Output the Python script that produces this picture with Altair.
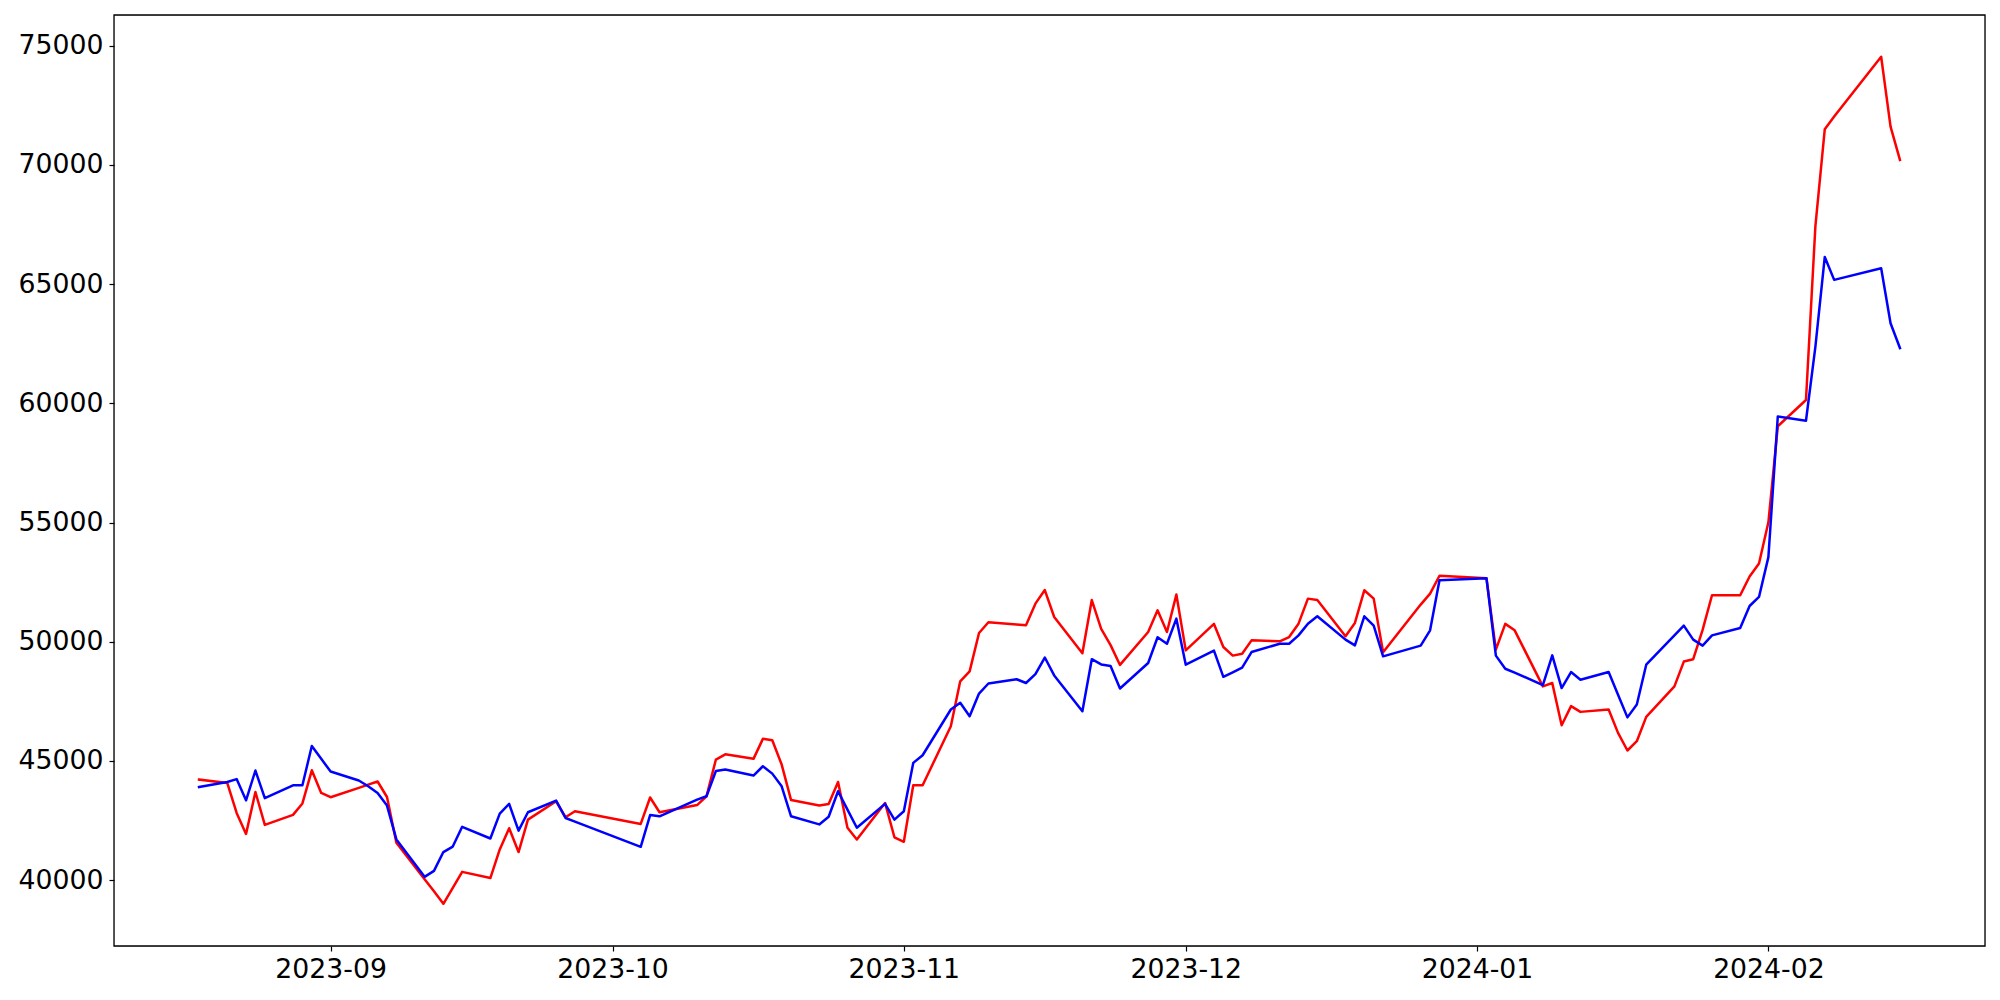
import altair as alt
import pandas as pd

dates = [
    "2023-08-18", "2023-08-21", "2023-08-22", "2023-08-23", "2023-08-24", "2023-08-25",
    "2023-08-28", "2023-08-29", "2023-08-30", "2023-08-31", "2023-09-01",
    "2023-09-04", "2023-09-05", "2023-09-06", "2023-09-07", "2023-09-08",
    "2023-09-11", "2023-09-12", "2023-09-13", "2023-09-14", "2023-09-15",
    "2023-09-18", "2023-09-19", "2023-09-20", "2023-09-21", "2023-09-22",
    "2023-09-25", "2023-09-26", "2023-09-27",
    "2023-10-04", "2023-10-05", "2023-10-06",
    "2023-10-10", "2023-10-11", "2023-10-12", "2023-10-13",
    "2023-10-16", "2023-10-17", "2023-10-18", "2023-10-19", "2023-10-20",
    "2023-10-23", "2023-10-24", "2023-10-25", "2023-10-26", "2023-10-27",
    "2023-10-30", "2023-10-31", "2023-11-01", "2023-11-02", "2023-11-03",
    "2023-11-06", "2023-11-07", "2023-11-08", "2023-11-09", "2023-11-10",
    "2023-11-13", "2023-11-14", "2023-11-15", "2023-11-16", "2023-11-17",
    "2023-11-20", "2023-11-21", "2023-11-22", "2023-11-23", "2023-11-24",
    "2023-11-27", "2023-11-28", "2023-11-29", "2023-11-30", "2023-12-01",
    "2023-12-04", "2023-12-05", "2023-12-06", "2023-12-07", "2023-12-08",
    "2023-12-11", "2023-12-12", "2023-12-13", "2023-12-14", "2023-12-15",
    "2023-12-18", "2023-12-19", "2023-12-20", "2023-12-21", "2023-12-22",
    "2023-12-26", "2023-12-27", "2023-12-28",
    "2024-01-02", "2024-01-03", "2024-01-04", "2024-01-05",
    "2024-01-08", "2024-01-09", "2024-01-10", "2024-01-11", "2024-01-12",
    "2024-01-15", "2024-01-16", "2024-01-17", "2024-01-18", "2024-01-19",
    "2024-01-22", "2024-01-23", "2024-01-24", "2024-01-25", "2024-01-26",
    "2024-01-29", "2024-01-30", "2024-01-31", "2024-02-01", "2024-02-02",
    "2024-02-05", "2024-02-06", "2024-02-07", "2024-02-08",
    "2024-02-13", "2024-02-14", "2024-02-15",
]

red_values = [
    44220, 44080, 42820, 41940, 43700, 42320,
    42740, 43220, 44610, 43660, 43480,
    43870, 44010, 44140, 43490, 41570,
    40040, 39540, 39010, 39680, 40350,
    40090, 41290, 42180, 41180, 42540,
    43310, 42640, 42890,
    42360, 43470, 42850,
    43150, 43520, 45060, 45280,
    45090, 45930, 45870, 44850, 43360,
    43130, 43200, 44120, 42200, 41710,
    43240, 41800, 41610, 43980, 43980,
    46460, 48340, 48760, 50370, 50820,
    50720, 50690, 51600, 52170, 51040,
    49520, 51750, 50540, 49860, 49030,
    50410, 51320, 50410, 51980, 49640,
    50750, 49780, 49420, 49500, 50060,
    50020, 50200, 50760, 51810, 51750,
    50230, 50790, 52160, 51810, 49560,
    51560, 52020, 52770,
    52660, 49670, 50750, 50480,
    48130, 48270, 46500, 47300, 47060,
    47160, 46180, 45440, 45830, 46850,
    48130, 49170, 49270, 50500, 51950,
    51950, 52740, 53280, 55010, 59040,
    60140, 67420, 71500, 72030,
    74540, 71610, 70210,
]

blue_values = [
    43910, 44120, 44240, 43350, 44600, 43440,
    43980, 43980, 45630, 45090, 44560,
    44180, 43940, 43660, 43130, 41710,
    40140, 40390, 41180, 41410, 42240,
    41750, 42790, 43200, 42080, 42850,
    43340, 42610, 42460,
    41400, 42730, 42680,
    43380, 43520, 44580, 44640,
    44390, 44780, 44470, 43940, 42680,
    42340, 42660, 43730, 42960, 42200,
    43200, 42540, 42890, 44920, 45240,
    47160, 47440, 46880, 47830, 48250,
    48430, 48270, 48640, 49340, 48590,
    47090, 49270, 49050, 48980, 48040,
    49110, 50190, 49920, 50970, 49040,
    49630, 48530, 48720, 48920, 49570,
    49920, 49920, 50270, 50760, 51070,
    50090, 49850, 51070, 50680, 49390,
    49840, 50480, 52580,
    52670, 49420, 48870, 48710,
    48180, 49430, 48060, 48730, 48410,
    48730, 47780, 46830, 47370, 49040,
    50270, 50680, 50090, 49840, 50270,
    50580, 51500, 51880, 53550, 59450,
    59270, 62370, 66140, 65180,
    65670, 63360, 62320,
]

y_ticks = [40000, 45000, 50000, 55000, 60000, 65000, 70000, 75000]
x_tick_months = [(2023, 9), (2023, 10), (2023, 11), (2023, 12), (2024, 1), (2024, 2)]

W, H = 1871, 931

df = pd.DataFrame({
    "date": dates * 2,
    "value": red_values + blue_values,
    "series": ["red"] * len(dates) + ["blue"] * len(dates),
})

x_enc = alt.X(
    "date:T",
    scale=alt.Scale(
        type="utc",
        domain=[
            alt.DateTime(year=2023, month=8, date=8, hours=22, minutes=48, utc=True),
            alt.DateTime(year=2024, month=2, date=24, hours=1, minutes=12, utc=True),
        ],
        nice=False,
    ),
    axis=alt.Axis(
        values=[alt.DateTime(year=y, month=m, date=1, utc=True) for y, m in x_tick_months],
        format="%Y-%m",
        title=None,
        grid=False,
        domain=False,
        ticks=True,
        tickSize=5,
        tickColor="#000000",
        tickOpacity=1,
        tickWidth=1.2,
        labelFontSize=26.7,
        labelColor="black",
        labelFont="DejaVu Sans",
        labelPadding=5,
        labelFlush=False,
        labelOverlap=False,
    ),
)

y_enc = alt.Y(
    "value:Q",
    scale=alt.Scale(domain=[37240, 76290], nice=False, zero=False),
    axis=alt.Axis(
        values=y_ticks,
        format="d",
        title=None,
        grid=False,
        domain=False,
        ticks=True,
        tickSize=5,
        tickColor="#000000",
        tickOpacity=1,
        tickWidth=1.2,
        labelFontSize=26.7,
        labelColor="black",
        labelFont="DejaVu Sans",
        labelPadding=6,
        labelBaseline="middle",
        labelOverlap=False,
        labelFlush=False,
    ),
)

base = alt.Chart(df)

red_line = base.transform_filter(alt.datum.series == "red").mark_line(
    color="#ff0000", strokeWidth=2.5, strokeJoin="round", strokeCap="square"
).encode(x=x_enc, y=y_enc, order="date:T")

blue_line = base.transform_filter(alt.datum.series == "blue").mark_line(
    color="#0000ff", strokeWidth=2.5, strokeJoin="round", strokeCap="square"
).encode(x=x_enc, y=y_enc, order="date:T")

frame = alt.Chart(pd.DataFrame({"k": [0]})).mark_rect(
    fillOpacity=0, stroke="#000000", strokeWidth=1.3
).encode(
    x=alt.value(0), x2=alt.value(W), y=alt.value(0), y2=alt.value(H)
)

chart = (
    alt.layer(red_line, blue_line, frame)
    .properties(
        width=W,
        height=H,
        autosize="none",
        padding={"left": 106, "top": 7, "right": 5, "bottom": 40},
        background="white",
    )
    .configure_view(strokeWidth=0)
    .configure(font="DejaVu Sans")
)

chart.save("out.html", embed_options={"renderer": "svg", "actions": False})
